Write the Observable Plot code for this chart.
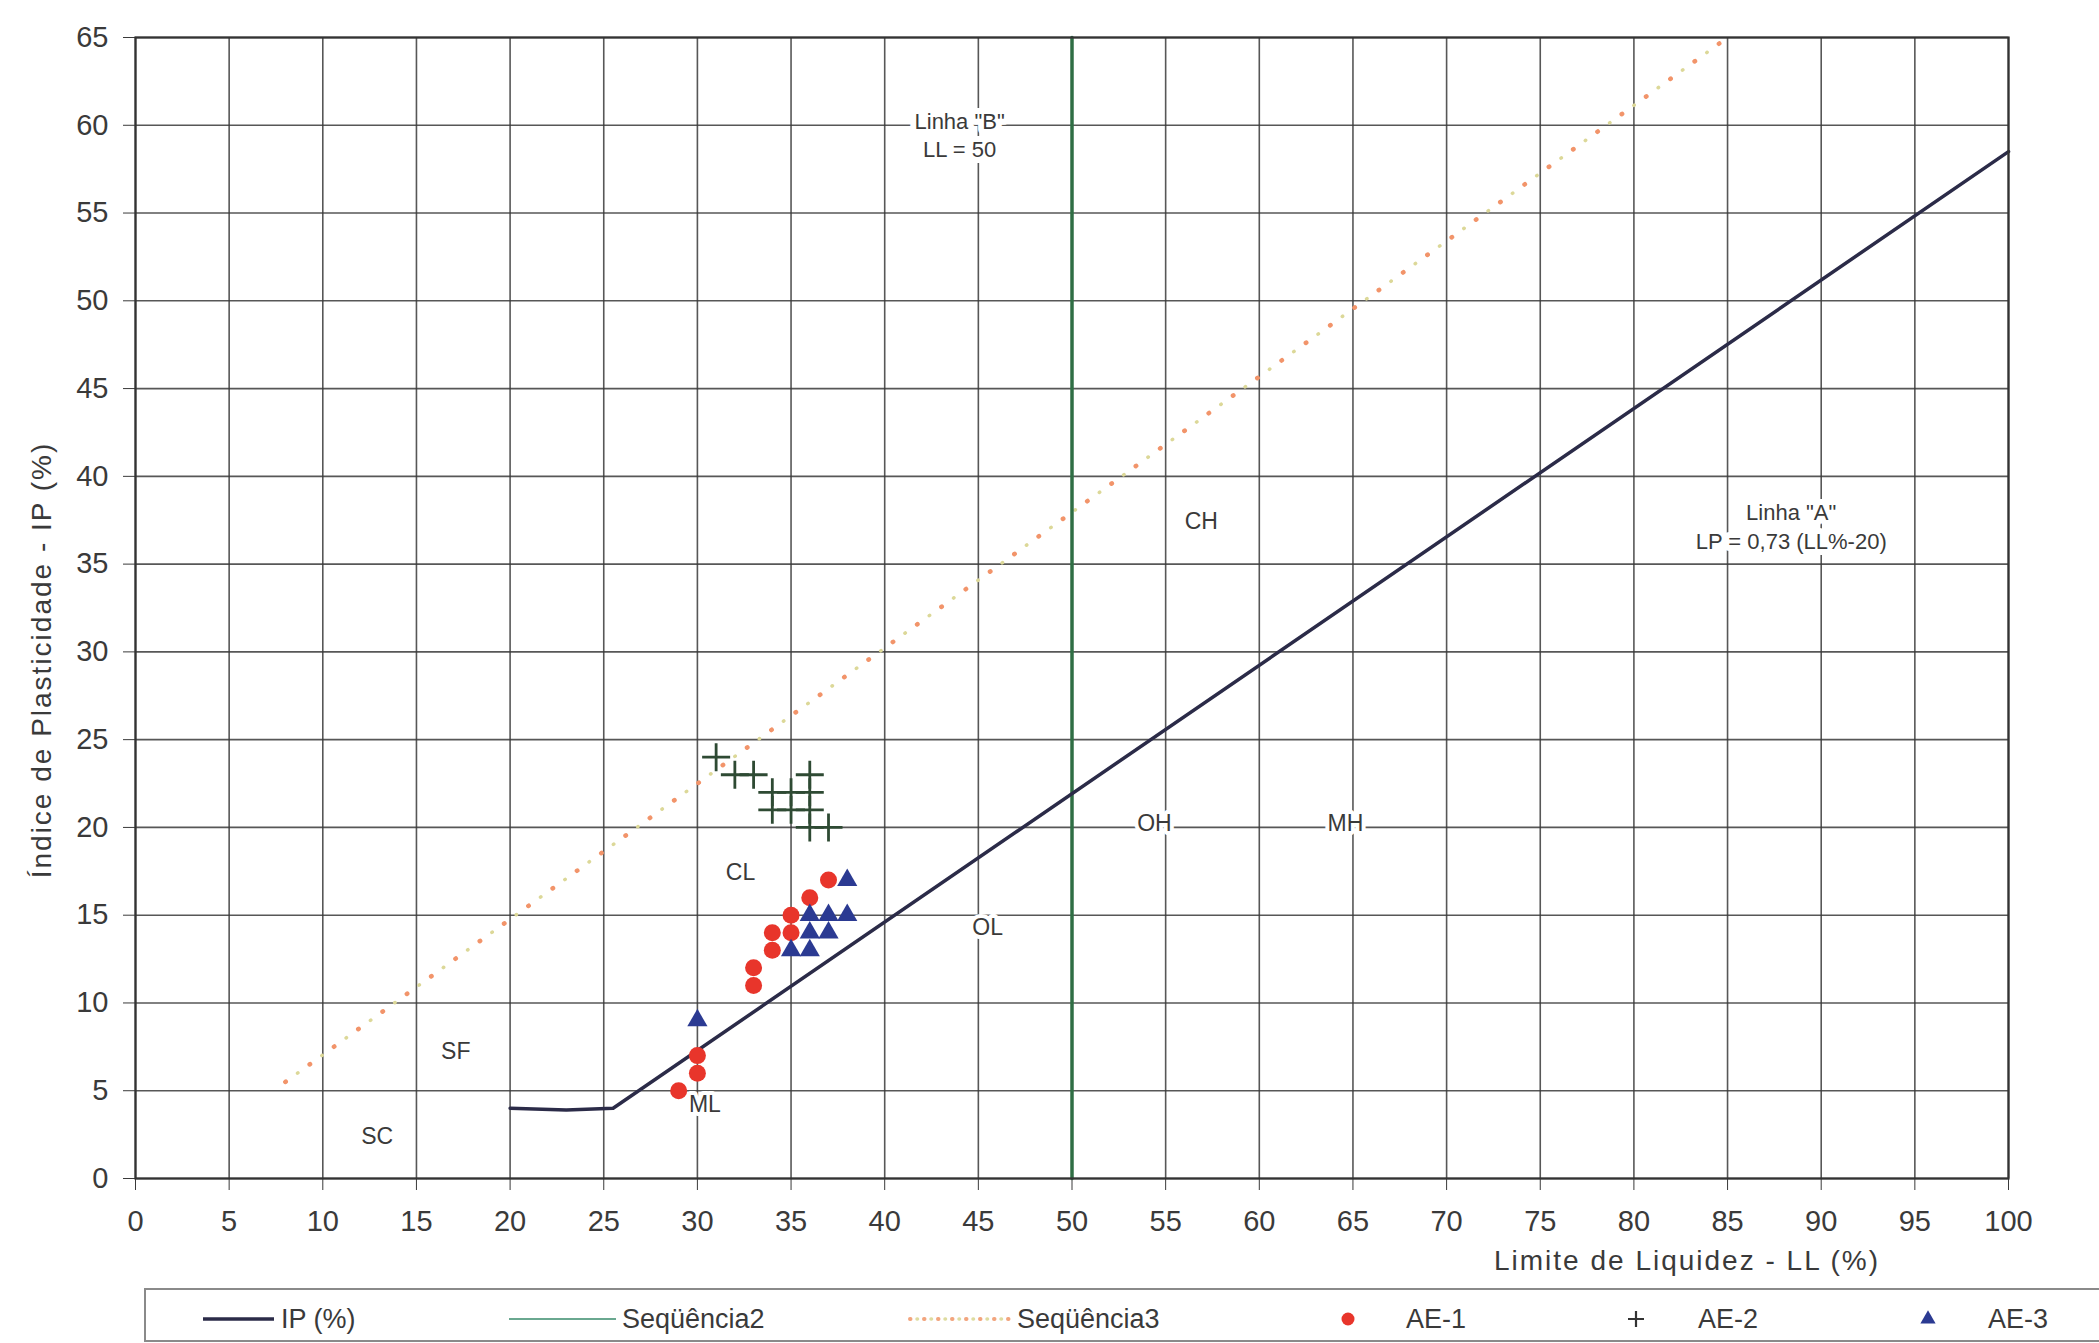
<!DOCTYPE html>
<html><head><meta charset="utf-8">
<script src="https://cdn.jsdelivr.net/npm/d3@7"></script>
<script src="https://cdn.jsdelivr.net/npm/@observablehq/plot@0.6"></script>
<style>
body{margin:0;background:#fff;}
#wrap{position:relative;width:2099px;height:1343px;overflow:hidden;font-family:"Liberation Sans",Arial,sans-serif;background:#fff;}
#chart{position:absolute;left:0;top:0;}
#legend{position:absolute;left:0;top:1280px;}
</style></head>
<body><div id="wrap"><div id="chart"></div><svg id="legend" width="2099" height="63"></svg></div>
<script>
// ---- data ----
const xTicks = [0,5,10,15,20,25,30,35,40,45,50,55,60,65,70,75,80,85,90,95,100];
const yTicks = [0,5,10,15,20,25,30,35,40,45,50,55,60,65];

const ipLL = [20, 23, 25.5, 100];          // "IP (%)" – Linha A
const ipIP = [4, 3.9, 4, 58.5];

const seq2LL = [50, 50];                    // Seqüência2 – Linha B
const seq2IP = [0, 65];

const seq3LL = [8, 85];                     // Seqüência3 – dotted line
const seq3IP = [5.5, 65];

const ae1LL = [29, 30, 30, 33, 33, 34, 34, 35, 35, 36, 37];
const ae1IP = [5, 7, 6, 12, 11, 14, 13, 15, 14, 16, 17];

const ae2LL = [31, 32, 33, 34, 34, 35, 35, 36, 36, 36, 36, 37];
const ae2IP = [24, 23, 23, 22, 21, 22, 21, 23, 22, 21, 20, 20];

const ae3LL = [30, 35, 36, 36, 36, 37, 37, 38, 38];
const ae3IP = [9, 13, 13, 14, 15, 14, 15, 15, 17];

const zoneNames = ["CH", "OH", "MH", "OL", "CL", "SF", "SC", "ML"];
const zoneLL    = [56.9, 54.4, 64.6, 45.5, 32.3, 17.1, 12.9, 30.4];
const zoneIP    = [37.4, 20.2, 20.2, 14.3, 17.4, 7.2, 2.4, 4.2];

const noteTexts = ['Linha "B"\nLL = 50', 'Linha "A"\nLP = 0,73 (LL%-20)'];
const noteLL = [44.0, 88.4];
const noteIP = [59.5, 37.2];

const xTitle = "Limite de Liquidez - LL (%)";
const yTitle = "Índice de Plasticidade - IP (%)";
const legendNames = ["IP (%)", "Seqüência2", "Seqüência3", "AE-1", "AE-2", "AE-3"];

// ---- helpers ----
const zip = (xs, ys, extra) => xs.map((x, i) => ({x, y: ys[i], t: extra ? extra[i] : undefined}));
const plusSymbol = {draw(ctx, size){ const r = Math.sqrt(size / Math.PI); ctx.moveTo(-r,0); ctx.lineTo(r,0); ctx.moveTo(0,-r); ctx.lineTo(0,r); }};

const FONT = '"Liberation Sans", Arial, sans-serif';
const C_A = "#2b2b48", C_B = "#2f6e44", C_RED = "#e8352b", C_GREEN = "#2e4a33", C_BLUE = "#2b3a92";

const chart = Plot.plot({
  width: 2099, height: 1280,
  marginTop: 37, marginLeft: 135, marginRight: 91, marginBottom: 102,
  x: {domain: [0, 100]},
  y: {domain: [0, 65]},
  style: {fontFamily: FONT, fontSize: "29px", color: "#3a3a3a", background: "white"},
  marks: [
    Plot.gridX(xTicks, {stroke: "#3a3a3a", strokeOpacity: 0.85, strokeWidth: 1.6}),
    Plot.gridY(yTicks, {stroke: "#3a3a3a", strokeOpacity: 0.85, strokeWidth: 1.6}),
    Plot.axisX(xTicks, {tickSize: 12, tickPadding: 20, fontSize: 29, label: null, stroke: "#3a3a3a"}),
    Plot.axisY(yTicks, {tickSize: 12, tickPadding: 15, fontSize: 29, label: null, stroke: "#3a3a3a"}),
    // Seqüência3 dotted line (two interleaved colours)
    Plot.line(zip(seq3LL, seq3IP), {x: "x", y: "y", stroke: "#dcd898", strokeWidth: 3.5, strokeDasharray: "0,15,0.5,14.5", strokeLinecap: "round"}),
    Plot.line(zip(seq3LL, seq3IP), {x: "x", y: "y", stroke: "#f2946a", strokeWidth: 4.5, strokeDasharray: "0.5,29.5", strokeLinecap: "round"}),
    // Seqüência2 (Linha B)
    Plot.line(zip(seq2LL, seq2IP), {x: "x", y: "y", stroke: C_B, strokeWidth: 3.5}),
    // IP (%) (Linha A)
    Plot.line(zip(ipLL, ipIP), {x: "x", y: "y", stroke: C_A, strokeWidth: 3.5, curve: "linear"}),
    Plot.frame({stroke: "#333", strokeWidth: 2.2}),
    // zone labels
    Plot.text(zip(zoneLL, zoneIP, zoneNames), {x: "x", y: "y", text: "t", fontSize: 23, fill: "#3a3a3a", stroke: "white", strokeWidth: 8}),
    Plot.text(zip(noteLL, noteIP, noteTexts), {x: "x", y: "y", text: "t", fontSize: 22, lineHeight: 1.3, fill: "#3a3a3a", stroke: "white", strokeWidth: 12}),
    // data points
    Plot.dot(zip(ae1LL, ae1IP), {x: "x", y: "y", r: 8.5, fill: C_RED, stroke: "none"}),
    Plot.dot(zip(ae2LL, ae2IP), {x: "x", y: "y", r: 14, symbol: plusSymbol, fill: "none", stroke: C_GREEN, strokeWidth: 2.8}),
    Plot.dot(zip(ae3LL, ae3IP), {x: "x", y: "y", r: 7.5, symbol: "triangle", fill: C_BLUE, stroke: "none"}),
    // axis titles
    Plot.text([xTitle], {frameAnchor: "bottom", dx: 615, dy: 83, lineAnchor: "middle", textAnchor: "middle", fontSize: 28, fill: "#3a3a3a"}),
    Plot.text([yTitle], {frameAnchor: "left", dx: -93, dy: 52, rotate: -90, lineAnchor: "middle", textAnchor: "middle", fontSize: 28, fill: "#3a3a3a"})
  ]
});
document.getElementById("chart").appendChild(chart);
chart.querySelectorAll("text").forEach(t => {
  if (t.textContent === xTitle || t.textContent === yTitle) t.style.letterSpacing = "2px";
});

// ---- legend ----
const lg = d3.select("#legend");
const ly = 39;
lg.append("rect").attr("x", 145).attr("y", 9).attr("width", 2000).attr("height", 52)
  .attr("fill", "white").attr("stroke", "#8a8a8a").attr("stroke-width", 2);
const items = [
  {x0: 203, x1: 274, tx: 281, kind: "line", color: C_A, w: 3.5},
  {x0: 509, x1: 616, tx: 622, kind: "line", color: "#6aa890", w: 2},
  {x0: 910, x1: 1011, tx: 1017, kind: "dots"},
  {x0: 1348, tx: 1406, kind: "circle"},
  {x0: 1636, tx: 1698, kind: "plus"},
  {x0: 1928, tx: 1988, kind: "tri"}
];
items.forEach((it, i) => {
  if (it.kind === "line") {
    lg.append("line").attr("x1", it.x0).attr("x2", it.x1).attr("y1", ly).attr("y2", ly).attr("stroke", it.color).attr("stroke-width", it.w);
  } else if (it.kind === "dots") {
    lg.append("line").attr("x1", it.x0 + 7).attr("x2", it.x1).attr("y1", ly).attr("y2", ly).attr("stroke", "#dedca0").attr("stroke-width", 3.5).attr("stroke-dasharray", "0.5,13.5").attr("stroke-linecap", "round");
    lg.append("line").attr("x1", it.x0).attr("x2", it.x1).attr("y1", ly).attr("y2", ly).attr("stroke", "#f2a57e").attr("stroke-width", 4).attr("stroke-dasharray", "0.5,13.5").attr("stroke-linecap", "round");
  } else if (it.kind === "circle") {
    lg.append("circle").attr("cx", it.x0).attr("cy", ly).attr("r", 6.5).attr("fill", C_RED);
  } else if (it.kind === "plus") {
    lg.append("path").attr("d", `M${it.x0-8},${ly}H${it.x0+8}M${it.x0},${ly-8}V${ly+8}`).attr("stroke", "#333").attr("stroke-width", 2.2);
  } else {
    lg.append("path").attr("d", d3.symbol(d3.symbolTriangle, 100)()).attr("transform", `translate(${it.x0},${ly})`).attr("fill", C_BLUE);
  }
  lg.append("text").attr("x", it.tx).attr("y", ly).attr("dy", "0.35em").attr("font-size", 27)
    .attr("font-family", FONT).attr("fill", "#3a3a3a").text(legendNames[i]);
});
</script></body></html>
